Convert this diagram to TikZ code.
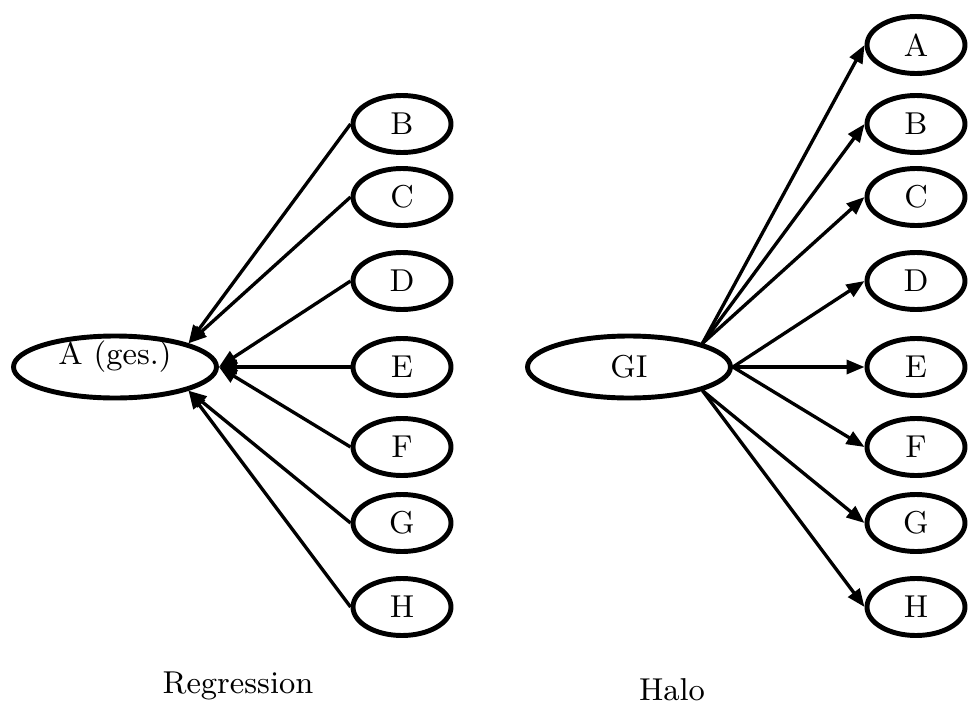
\documentclass[tikz,border=0pt]{standalone}
\usetikzlibrary{shapes.geometric,arrows.meta}

\begin{document}
\begin{tikzpicture}[auto,font=\small,>={Triangle[length=0.18cm,width=0.14cm]}]

%
% Styles
%
\tikzstyle{item} = [ellipse,draw,line width=1.4pt,minimum width=0.98cm,minimum height=0.57cm,inner sep=0pt]
\tikzstyle{hub} = [ellipse,draw,line width=1.4pt,minimum width=2.03cm,minimum height=0.62cm,inner sep=0pt]
\tikzstyle{conn} = [->,line width=0.95pt]

\useasboundingbox (0,0) rectangle (9.69,7.09);

% Regression
\node[hub,label={[yshift=3pt]center:A (ges.)}] (ges) at (1.15,3.42) {};
\node[item] (b1) at (4.02,5.85) {B};
\node[item] (c1) at (4.02,5.12) {C};
\node[item] (d1) at (4.02,4.28) {D};
\node[item] (e1) at (4.02,3.42) {E};
\node[item] (f1) at (4.02,2.62) {F};
\node[item] (g1) at (4.02,1.86) {G};
\node[item] (h1) at (4.02,1.02) {H};

\draw[conn] (b1.west) -- (ges.north east);
\draw[conn] (c1.west) -- (ges.north east);
\draw[conn] (d1.west) -- (ges.east);
\draw[conn] (e1.west) -- (ges.east);
\draw[conn] (f1.west) -- (ges.east);
\draw[conn] (g1.west) -- (ges.south east);
\draw[conn] (h1.west) -- (ges.south east);

\node (reg) at (2.38,0.23) {Regression};

% Halo
\node[hub] (gi) at (6.29,3.42) {GI};
\node[item] (a2) at (9.16,6.64) {A};
\node[item] (b2) at (9.16,5.85) {B};
\node[item] (c2) at (9.16,5.12) {C};
\node[item] (d2) at (9.16,4.28) {D};
\node[item] (e2) at (9.16,3.42) {E};
\node[item] (f2) at (9.16,2.62) {F};
\node[item] (g2) at (9.16,1.86) {G};
\node[item] (h2) at (9.16,1.02) {H};

\draw[conn] (gi.north east) -- (a2.west);
\draw[conn] (gi.north east) -- (b2.west);
\draw[conn] (gi.north east) -- (c2.west);
\draw[conn] (gi.east) -- (d2.west);
\draw[conn] (gi.east) -- (e2.west);
\draw[conn] (gi.east) -- (f2.west);
\draw[conn] (gi.south east) -- (g2.west);
\draw[conn] (gi.south east) -- (h2.west);

\node (halo) at (6.72,0.19) {Halo};

\end{tikzpicture}
\end{document}
